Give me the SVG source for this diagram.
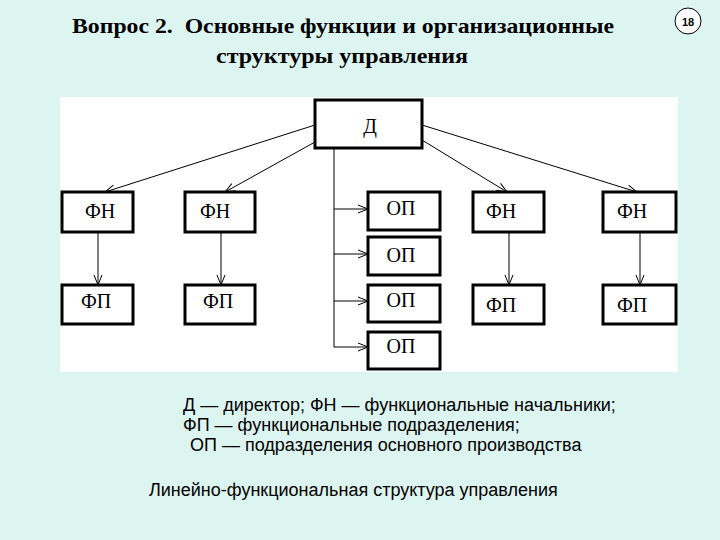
<svg xmlns="http://www.w3.org/2000/svg" width="720" height="540" viewBox="0 0 720 540">
<style>
.box{fill:#fff;stroke:#000;stroke-width:3}
.lbl{font-family:"Liberation Serif","Times New Roman",serif;font-size:20px;fill:#000;text-anchor:middle}
.ln{stroke:#000;stroke-width:1;fill:none}
.leg{font-family:"Liberation Sans",Arial,sans-serif;font-size:18px;fill:#000}
.ttl{font-family:"Liberation Serif","Times New Roman",serif;font-size:22px;font-weight:bold;fill:#000}
</style>
<defs>
<marker id="ah" markerWidth="12" markerHeight="10" refX="11" refY="5" orient="auto" markerUnits="userSpaceOnUse">
<path d="M1,1 L11,5 L1,9" fill="none" stroke="#000" stroke-width="1"/>
</marker>
</defs>
<rect x="0" y="0" width="720" height="540" fill="#ddf5f0"/>
<rect x="60" y="97" width="618" height="275" fill="#fff"/>
<text class="ttl" x="72" y="33" textLength="542" lengthAdjust="spacingAndGlyphs">Вопрос 2.&#160; Основные функции и организационные</text>
<text class="ttl" x="216" y="63" textLength="252" lengthAdjust="spacingAndGlyphs">структуры управления</text>
<g id="page">
<circle cx="688" cy="21" r="13" fill="#fff" stroke="#000" stroke-width="1"/>
<text x="688" y="25.5" font-family="'Liberation Sans',Arial,sans-serif" font-size="11" font-weight="bold" text-anchor="middle">18</text>
</g>
<g id="connectors">
<line class="ln" x1="315" y1="125" x2="105" y2="192" marker-end="url(#ah)"/>
<line class="ln" x1="315" y1="142" x2="225" y2="192" marker-end="url(#ah)"/>
<line class="ln" x1="422" y1="140" x2="507" y2="192" marker-end="url(#ah)"/>
<line class="ln" x1="422" y1="125" x2="637" y2="192" marker-end="url(#ah)"/>
<line class="ln" x1="334" y1="148" x2="334" y2="347"/>
<line class="ln" x1="334" y1="209" x2="368" y2="209" marker-end="url(#ah)"/>
<line class="ln" x1="334" y1="254" x2="368" y2="254" marker-end="url(#ah)"/>
<line class="ln" x1="334" y1="301" x2="368" y2="301" marker-end="url(#ah)"/>
<line class="ln" x1="334" y1="347" x2="368" y2="347" marker-end="url(#ah)"/>
<line class="ln" x1="98" y1="232" x2="98" y2="285" marker-end="url(#ah)"/>
<line class="ln" x1="221" y1="232" x2="221" y2="285" marker-end="url(#ah)"/>
<line class="ln" x1="509" y1="232" x2="509" y2="285" marker-end="url(#ah)"/>
<line class="ln" x1="640" y1="232" x2="640" y2="285" marker-end="url(#ah)"/>
</g>
<g id="D"><rect class="box" x="315" y="100" width="107" height="48"/><text class="lbl" x="370" y="133" font-size="22">Д</text></g>
<g id="FN1"><rect class="box" x="62" y="192" width="71" height="40"/><text class="lbl" x="100" y="218">ФН</text></g>
<g id="FN2"><rect class="box" x="185" y="192" width="70" height="40"/><text class="lbl" x="215" y="218">ФН</text></g>
<g id="FN3"><rect class="box" x="473" y="192" width="71" height="40"/><text class="lbl" x="501" y="218">ФН</text></g>
<g id="FN4"><rect class="box" x="603" y="192" width="73" height="40"/><text class="lbl" x="632" y="218">ФН</text></g>
<g id="OP1"><rect class="box" x="368" y="192" width="72" height="38"/><text class="lbl" x="401" y="215">ОП</text></g>
<g id="OP2"><rect class="box" x="368" y="237" width="72" height="38"/><text class="lbl" x="401" y="262">ОП</text></g>
<g id="OP3"><rect class="box" x="368" y="285" width="72" height="37"/><text class="lbl" x="401" y="307">ОП</text></g>
<g id="OP4"><rect class="box" x="368" y="332" width="72" height="37"/><text class="lbl" x="401" y="353">ОП</text></g>
<g id="FP1"><rect class="box" x="62" y="285" width="71" height="39"/><text class="lbl" x="96" y="308">ФП</text></g>
<g id="FP2"><rect class="box" x="185" y="285" width="70" height="39"/><text class="lbl" x="218" y="308">ФП</text></g>
<g id="FP3"><rect class="box" x="473" y="285" width="71" height="39"/><text class="lbl" x="501" y="312">ФП</text></g>
<g id="FP4"><rect class="box" x="603" y="285" width="73" height="39"/><text class="lbl" x="632" y="312">ФП</text></g>
<text class="leg" x="183" y="411">Д — директор; ФН — функциональные начальники;</text>
<text class="leg" x="183" y="431">ФП — функциональные подразделения;</text>
<text class="leg" x="190" y="451">ОП — подразделения основного производства</text>
<text class="leg" x="149" y="496">Линейно-функциональная структура управления</text>
</svg>
